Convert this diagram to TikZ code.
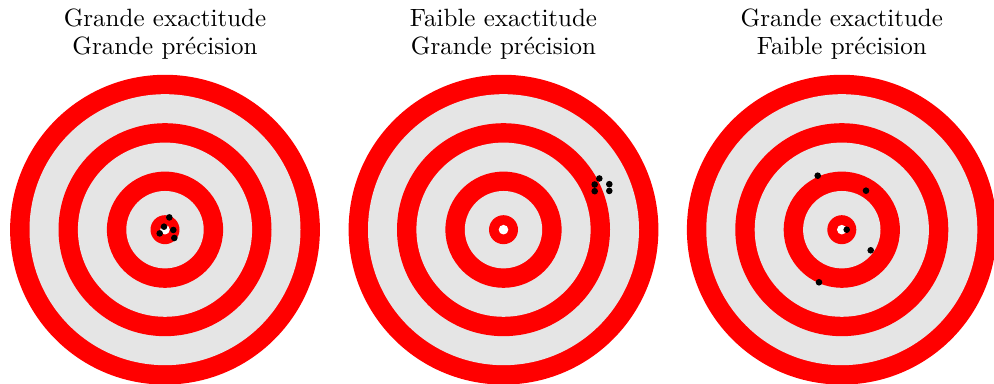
\documentclass[tikz,border=0pt]{standalone}
\definecolor{ringred}{RGB}{255,0,0}
\definecolor{ringgrey}{RGB}{229,229,229}
\tikzset{
  title/.style={anchor=base, inner sep=0pt, font=\fontsize{10}{12}\selectfont},
  hit/.style={fill=black},
}
\newcommand{\drawtarget}[2]{%
  \begin{scope}[shift={(#1,#2)}]
    \fill[ringred]  (0,0) circle (154.9);
    \fill[ringgrey] (0,0) circle (135.5);
    \fill[ringred]  (0,0) circle (106.5);
    \fill[ringgrey] (0,0) circle (87.1);
    \fill[ringred]  (0,0) circle (58.1);
    \fill[ringgrey] (0,0) circle (38.7);
    \fill[ringred]  (0,0) circle (14.5);
    \fill[white]    (0,0) circle (4.8);
  \end{scope}}
\begin{document}
\begin{tikzpicture}[x=0.4pt,y=0.4pt]
\useasboundingbox (0,0) rectangle (994,384);
% targets
\drawtarget{165}{154.3}
\drawtarget{503.5}{154.3}
\drawtarget{841.8}{154.3}
% titles
\node[title] (t1a) at (165,357.3) {Grande exactitude};
\node[title] (t1b) at (165,329) {Grande précision};
\node[title] (t2a) at (503.5,357.3) {Faible exactitude};
\node[title] (t2b) at (503.5,329) {Grande précision};
\node[title] (t3a) at (841.8,357.3) {Grande exactitude};
\node[title] (t3b) at (841.8,329) {Faible précision};
% hits: target 1
\begin{scope}[shift={(165,154.3)}]
  \foreach \dx/\dy in {4.3/12.3, -1/3, 8.3/-0.3, -5.3/-3.7, 9.3/-8.3}
    \fill[hit] (\dx,\dy) circle (3.3);
\end{scope}
% hits: target 2
\begin{scope}[shift={(503.5,154.3)}]
  \foreach \dx/\dy in {95.8/51.2, 91.2/45.2, 105.8/45.5, 91.2/38.5, 105.8/38.8}
    \fill[hit] (\dx,\dy) circle (3.3);
\end{scope}
% hits: target 3
\begin{scope}[shift={(841.8,154.3)}]
  \foreach \dx/\dy in {-24.1/54, 24.2/39, 4.9/0, 28.9/-20.6, -22.8/-52.6}
    \fill[hit] (\dx,\dy) circle (3.3);
\end{scope}
\end{tikzpicture}
\end{document}
